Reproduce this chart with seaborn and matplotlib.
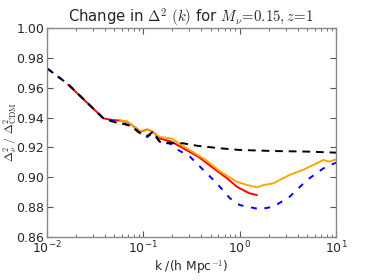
import numpy as np
import matplotlib
matplotlib.use("Agg")
import matplotlib.pyplot as plt
import seaborn as sns

# k in h/Mpc and ratio Delta^2_nu / Delta^2_CDM
k_black = [0.0100, 0.0166, 0.0251, 0.0385, 0.0468, 0.0575, 0.0646, 0.0759, 0.0933,
           0.110, 0.126, 0.148, 0.200, 0.257, 0.372, 0.631, 1.00, 2.24, 5.01, 10.0]
r_black = [0.973, 0.9623, 0.951, 0.9395, 0.9375, 0.9360, 0.9358, 0.9340, 0.9295,
           0.9277, 0.9305, 0.9238, 0.9228, 0.9228, 0.9210, 0.9194, 0.9183, 0.9176, 0.9172, 0.9165]

k_blue = [0.0100, 0.0166, 0.0251, 0.0385, 0.0575, 0.0759, 0.0933, 0.110, 0.126,
          0.148, 0.191, 0.224, 0.305, 0.420, 0.578, 0.794, 1.00, 1.62, 2.24, 3.31, 5.01, 7.41, 10.0]
r_blue = [0.973, 0.9623, 0.951, 0.9395, 0.9365, 0.9340, 0.9290, 0.9270, 0.9300,
          0.9235, 0.9225, 0.9187, 0.9138, 0.9049, 0.8960, 0.8859, 0.8814, 0.8786, 0.8803,
          0.8870, 0.8982, 0.9060, 0.9098]

k_red = [0.0166, 0.0251, 0.0385, 0.0468, 0.0575, 0.0676, 0.0759, 0.0933, 0.110,
         0.126, 0.148, 0.197, 0.260, 0.372, 0.537, 0.741, 0.933, 1.26, 1.51]
r_red = [0.962, 0.951, 0.9395, 0.9384, 0.9380, 0.9372, 0.9350, 0.9305, 0.9320,
         0.9305, 0.9260, 0.9238, 0.9194, 0.9138, 0.9060, 0.8993, 0.8937, 0.8893, 0.8881]

k_orange = [0.0575, 0.0676, 0.0891, 0.117, 0.148, 0.197, 0.251, 0.355, 0.447,
            0.631, 0.933, 1.20, 1.51, 1.78, 2.24, 3.31, 4.57, 6.31, 7.41, 8.51, 10.0]
r_orange = [0.938, 0.9375, 0.9310, 0.9317, 0.9270, 0.9260, 0.9215, 0.9155, 0.9116,
            0.9038, 0.8970, 0.8948, 0.8933, 0.8948, 0.8960, 0.9016, 0.9050, 0.9094,
            0.9116, 0.9105, 0.9120]

y_ticks = [0.86, 0.88, 0.90, 0.92, 0.94, 0.96, 0.98, 1.00]

sns.set_style("ticks")
plt.rcParams["mathtext.fontset"] = "cm"
plt.rcParams["font.family"] = ["DejaVu Sans"]

fig = plt.figure(figsize=(3.74, 2.80), dpi=100)
ax = fig.add_axes([0.1257, 0.1536, 0.7727, 0.7464])

sns.lineplot(x=k_red, y=r_red, color="red", lw=1.4, ax=ax, estimator=None, sort=False)
sns.lineplot(x=k_orange, y=r_orange, color="orange", lw=1.4, ax=ax, estimator=None, sort=False)
sns.lineplot(x=k_blue, y=r_blue, color="blue", lw=1.4, linestyle=(0, (3, 4)), ax=ax,
             estimator=None, sort=False)
sns.lineplot(x=k_black, y=r_black, color="black", lw=1.4, linestyle=(0, (4, 3)), ax=ax,
             estimator=None, sort=False)

ax.set_xscale("log")
ax.set_xlim(0.01, 10)
ax.set_ylim(0.86, 1.00)
ax.set_yticks(y_ticks)
ax.set_yticklabels([f"{v:.2f}" for v in y_ticks])

for s in ax.spines.values():
    s.set_visible(True)
    s.set_color("#888888")
    s.set_linewidth(1.0)
ax.tick_params(which="both", direction="in", top=True, right=True, labelsize=9,
               color="#555555", pad=2)
ax.tick_params(which="major", length=4)
ax.tick_params(which="minor", length=2)

ax.set_title(r"Change in $\Delta^2\ (k)$ for $M_\nu\!=\!0.15, z\!=\!1$", fontsize=10.7, pad=3)
ax.set_xlabel(r"k /(h Mpc$^{-1}$)", fontsize=8.8, labelpad=1)
ax.set_ylabel(r"$\Delta^2_\nu\ /\ \Delta^2_{\rm CDM}$", fontsize=8.5)
ax.yaxis.set_label_coords(-0.098, 0.5)

fig.savefig("out.png", dpi=100)
